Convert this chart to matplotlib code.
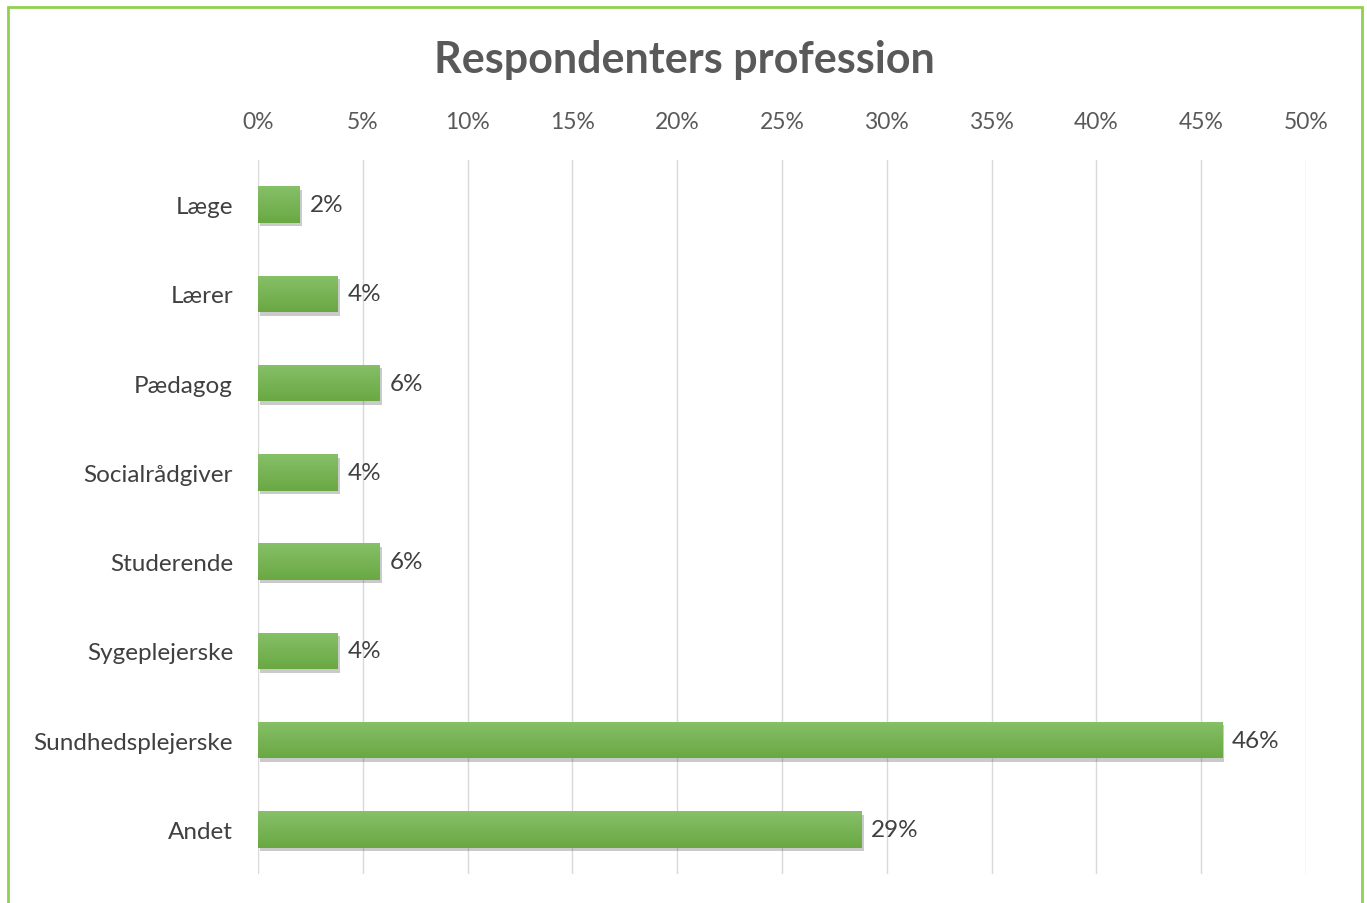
import matplotlib
matplotlib.use("Agg")
import matplotlib.pyplot as plt
import matplotlib.patheffects as pe
from matplotlib.patches import Rectangle
from matplotlib.colors import LinearSegmentedColormap
import numpy as np

categories = ["Læge", "Lærer", "Pædagog", "Socialrådgiver", "Studerende",
              "Sygeplejerske", "Sundhedsplejerske", "Andet"]
values = [2.0, 3.8, 5.8, 3.8, 5.8, 3.8, 46.0, 28.8]
labels = ["2%", "4%", "6%", "4%", "6%", "4%", "46%", "29%"]
xticks = [0, 5, 10, 15, 20, 25, 30, 35, 40, 45, 50]
xticklabels = [f"{t}%" for t in xticks]
title = "Respondenters profession"

plt.rcParams['font.family'] = ['Lato', 'DejaVu Sans']
W, H = 1367, 904
fig = plt.figure(figsize=(W / 100, H / 100), dpi=100)
fig.patch.set_facecolor("white")

# green border
fig.add_artist(Rectangle((8 / W, -0.05), (1362 - 8) / W, 1 - 8 / H + 0.05,
                         transform=fig.transFigure, fill=False,
                         edgecolor="#92D050", linewidth=2))

ax = fig.add_axes([258 / W, 1 - 875 / H, (1306 - 258) / W, (875 - 161) / H])
y = np.arange(len(categories))
bh = 0.41
bars = ax.barh(y, values, height=bh, color="#74B44C", zorder=3,
               path_effects=[pe.SimplePatchShadow(offset=(1.5, -2.5), shadow_rgbFace="#444444", alpha=0.28),
                             pe.Normal()])
ax.set_xlim(0, 50)
ax.set_ylim(len(categories) - 0.5, -0.5)

# vertical gradient fill clipped to each bar
cmap = LinearSegmentedColormap.from_list("g", ["#86C068", "#6AA843"])
grad = np.linspace(0, 1, 64).reshape(-1, 1)
for b in bars:
    x0, y0 = b.get_x(), b.get_y()
    im = ax.imshow(grad, cmap=cmap, aspect="auto", zorder=4,
                   extent=(x0, x0 + b.get_width(), y0, y0 + b.get_height()),
                   origin="lower", interpolation="bilinear")
    im.set_clip_path(b)
ax.set_xlim(0, 50)
ax.set_ylim(len(categories) - 0.5, -0.5)

ax.set_xticks(xticks)
ax.set_xticklabels(xticklabels)
ax.xaxis.tick_top()
ax.tick_params(axis="x", length=0, pad=20, labelsize=16.5, labelcolor="#595959")
ax.set_yticks(y)
ax.set_yticklabels(categories)
ax.tick_params(axis="y", length=0, pad=18, labelsize=17.5, labelcolor="#404040")
ax.grid(axis="x", color="#D9D9D9", linewidth=1, zorder=0)
for s in ax.spines.values():
    s.set_visible(False)

for yi, v, lab in zip(y, values, labels):
    ax.annotate(lab, (v, yi), xytext=(7, 0), textcoords="offset points",
                va="center", ha="left", fontsize=17.5, color="#404040")

fig.text(684 / W, 1 - 60 / H, title, ha="center", va="center",
         fontsize=31, fontweight="bold", color="#595959")

fig.savefig("out.png", dpi=100, facecolor="white")
